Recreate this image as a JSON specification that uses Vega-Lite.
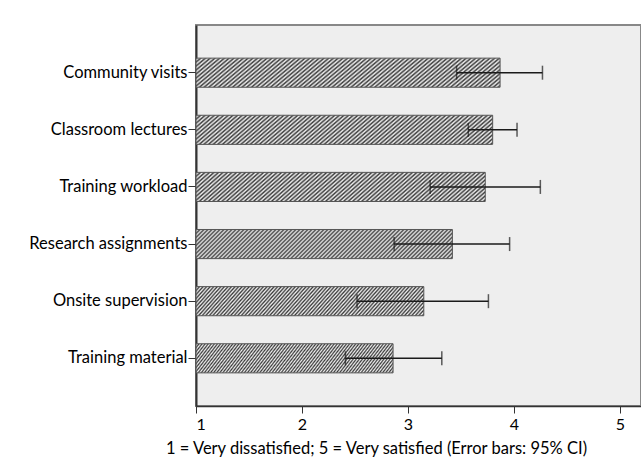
{
  "$schema": "https://vega.github.io/schema/vega-lite/v6.json",
  "usermeta": {"embedOptions": {"actions": false}},
  "width": 445,
  "height": 381,
  "autosize": {"type": "none"},
  "padding": {"left": 196, "top": 25, "right": 0, "bottom": 66},
  "background": "white",
  "config": {
    "view": {"fill": "#eeeeee", "stroke": "#888888", "strokeWidth": 2},
    "font": "Lato"
  },
  "data": {
    "values": [
      {"item": "Community visits", "mean": 3.87, "lo": 3.46, "hi": 4.27},
      {"item": "Classroom lectures", "mean": 3.80, "lo": 3.57, "hi": 4.03},
      {"item": "Training workload", "mean": 3.73, "lo": 3.21, "hi": 4.25},
      {"item": "Research assignments", "mean": 3.42, "lo": 2.87, "hi": 3.96},
      {"item": "Onsite supervision", "mean": 3.15, "lo": 2.52, "hi": 3.76},
      {"item": "Training material", "mean": 2.86, "lo": 2.41, "hi": 3.32}
    ]
  },
  "encoding": {
    "y": {
      "field": "item",
      "type": "nominal",
      "sort": null,
      "scale": {"paddingInner": 0.49, "paddingOuter": 0.58},
      "axis": {
        "title": null,
        "domainColor": "#333333",
        "domainWidth": 2,
        "tickColor": "#333333",
        "tickSize": 8,
        "labelFontSize": 16.5,
        "labelFont": "Lato",
        "labelColor": "#000000",
        "labelPadding": 1
      }
    }
  },
  "layer": [
    {
      "mark": {
        "type": "bar",
        "stroke": "#555555",
        "strokeWidth": 1,
        "fill": {
          "gradient": "linear",
          "x1": 0, "y1": 0, "x2": 1.0995, "y2": 0.125,
          "stops": [
            {"offset": 0, "color": "#3a3a3a"}, {"offset": 0.007, "color": "#f0f0f0"}, {"offset": 0.014, "color": "#3a3a3a"}, {"offset": 0.021, "color": "#f0f0f0"}, {"offset": 0.028, "color": "#3a3a3a"}, {"offset": 0.035, "color": "#f0f0f0"}, {"offset": 0.042, "color": "#3a3a3a"}, {"offset": 0.049, "color": "#f0f0f0"}, {"offset": 0.056, "color": "#3a3a3a"}, {"offset": 0.063, "color": "#f0f0f0"},
            {"offset": 0.07, "color": "#3a3a3a"}, {"offset": 0.077, "color": "#f0f0f0"}, {"offset": 0.084, "color": "#3a3a3a"}, {"offset": 0.091, "color": "#f0f0f0"}, {"offset": 0.098, "color": "#3a3a3a"}, {"offset": 0.105, "color": "#f0f0f0"}, {"offset": 0.112, "color": "#3a3a3a"}, {"offset": 0.119, "color": "#f0f0f0"}, {"offset": 0.126, "color": "#3a3a3a"}, {"offset": 0.133, "color": "#f0f0f0"},
            {"offset": 0.14, "color": "#3a3a3a"}, {"offset": 0.147, "color": "#f0f0f0"}, {"offset": 0.154, "color": "#3a3a3a"}, {"offset": 0.161, "color": "#f0f0f0"}, {"offset": 0.168, "color": "#3a3a3a"}, {"offset": 0.175, "color": "#f0f0f0"}, {"offset": 0.182, "color": "#3a3a3a"}, {"offset": 0.189, "color": "#f0f0f0"}, {"offset": 0.196, "color": "#3a3a3a"}, {"offset": 0.203, "color": "#f0f0f0"},
            {"offset": 0.21, "color": "#3a3a3a"}, {"offset": 0.217, "color": "#f0f0f0"}, {"offset": 0.224, "color": "#3a3a3a"}, {"offset": 0.231, "color": "#f0f0f0"}, {"offset": 0.238, "color": "#3a3a3a"}, {"offset": 0.245, "color": "#f0f0f0"}, {"offset": 0.252, "color": "#3a3a3a"}, {"offset": 0.259, "color": "#f0f0f0"}, {"offset": 0.266, "color": "#3a3a3a"}, {"offset": 0.273, "color": "#f0f0f0"},
            {"offset": 0.28, "color": "#3a3a3a"}, {"offset": 0.287, "color": "#f0f0f0"}, {"offset": 0.294, "color": "#3a3a3a"}, {"offset": 0.301, "color": "#f0f0f0"}, {"offset": 0.308, "color": "#3a3a3a"}, {"offset": 0.315, "color": "#f0f0f0"}, {"offset": 0.322, "color": "#3a3a3a"}, {"offset": 0.329, "color": "#f0f0f0"}, {"offset": 0.336, "color": "#3a3a3a"}, {"offset": 0.343, "color": "#f0f0f0"},
            {"offset": 0.35, "color": "#3a3a3a"}, {"offset": 0.357, "color": "#f0f0f0"}, {"offset": 0.364, "color": "#3a3a3a"}, {"offset": 0.371, "color": "#f0f0f0"}, {"offset": 0.378, "color": "#3a3a3a"}, {"offset": 0.385, "color": "#f0f0f0"}, {"offset": 0.392, "color": "#3a3a3a"}, {"offset": 0.399, "color": "#f0f0f0"}, {"offset": 0.406, "color": "#3a3a3a"}, {"offset": 0.413, "color": "#f0f0f0"},
            {"offset": 0.42, "color": "#3a3a3a"}, {"offset": 0.427, "color": "#f0f0f0"}, {"offset": 0.434, "color": "#3a3a3a"}, {"offset": 0.441, "color": "#f0f0f0"}, {"offset": 0.448, "color": "#3a3a3a"}, {"offset": 0.455, "color": "#f0f0f0"}, {"offset": 0.462, "color": "#3a3a3a"}, {"offset": 0.469, "color": "#f0f0f0"}, {"offset": 0.476, "color": "#3a3a3a"}, {"offset": 0.483, "color": "#f0f0f0"},
            {"offset": 0.49, "color": "#3a3a3a"}, {"offset": 0.497, "color": "#f0f0f0"}, {"offset": 0.504, "color": "#3a3a3a"}, {"offset": 0.511, "color": "#f0f0f0"}, {"offset": 0.518, "color": "#3a3a3a"}, {"offset": 0.525, "color": "#f0f0f0"}, {"offset": 0.532, "color": "#3a3a3a"}, {"offset": 0.539, "color": "#f0f0f0"}, {"offset": 0.546, "color": "#3a3a3a"}, {"offset": 0.553, "color": "#f0f0f0"},
            {"offset": 0.56, "color": "#3a3a3a"}, {"offset": 0.567, "color": "#f0f0f0"}, {"offset": 0.574, "color": "#3a3a3a"}, {"offset": 0.581, "color": "#f0f0f0"}, {"offset": 0.588, "color": "#3a3a3a"}, {"offset": 0.595, "color": "#f0f0f0"}, {"offset": 0.602, "color": "#3a3a3a"}, {"offset": 0.609, "color": "#f0f0f0"}, {"offset": 0.616, "color": "#3a3a3a"}, {"offset": 0.623, "color": "#f0f0f0"},
            {"offset": 0.63, "color": "#3a3a3a"}, {"offset": 0.637, "color": "#f0f0f0"}, {"offset": 0.644, "color": "#3a3a3a"}, {"offset": 0.651, "color": "#f0f0f0"}, {"offset": 0.658, "color": "#3a3a3a"}, {"offset": 0.665, "color": "#f0f0f0"}, {"offset": 0.672, "color": "#3a3a3a"}, {"offset": 0.679, "color": "#f0f0f0"}, {"offset": 0.686, "color": "#3a3a3a"}, {"offset": 0.693, "color": "#f0f0f0"},
            {"offset": 0.7, "color": "#3a3a3a"}, {"offset": 0.707, "color": "#f0f0f0"}, {"offset": 0.714, "color": "#3a3a3a"}, {"offset": 0.721, "color": "#f0f0f0"}, {"offset": 0.728, "color": "#3a3a3a"}, {"offset": 0.735, "color": "#f0f0f0"}, {"offset": 0.742, "color": "#3a3a3a"}, {"offset": 0.749, "color": "#f0f0f0"}, {"offset": 0.756, "color": "#3a3a3a"}, {"offset": 0.763, "color": "#f0f0f0"},
            {"offset": 0.77, "color": "#3a3a3a"}, {"offset": 0.777, "color": "#f0f0f0"}, {"offset": 0.784, "color": "#3a3a3a"}, {"offset": 0.791, "color": "#f0f0f0"}, {"offset": 0.798, "color": "#3a3a3a"}, {"offset": 0.805, "color": "#f0f0f0"}, {"offset": 0.812, "color": "#3a3a3a"}, {"offset": 0.819, "color": "#f0f0f0"}, {"offset": 0.826, "color": "#3a3a3a"}, {"offset": 0.833, "color": "#f0f0f0"},
            {"offset": 0.84, "color": "#3a3a3a"}, {"offset": 0.847, "color": "#f0f0f0"}, {"offset": 0.854, "color": "#3a3a3a"}, {"offset": 0.861, "color": "#f0f0f0"}, {"offset": 0.868, "color": "#3a3a3a"}, {"offset": 0.875, "color": "#f0f0f0"}, {"offset": 0.882, "color": "#3a3a3a"}, {"offset": 0.889, "color": "#f0f0f0"}, {"offset": 0.896, "color": "#3a3a3a"}, {"offset": 0.903, "color": "#f0f0f0"},
            {"offset": 0.91, "color": "#3a3a3a"}, {"offset": 0.917, "color": "#f0f0f0"}, {"offset": 0.924, "color": "#3a3a3a"}, {"offset": 0.931, "color": "#f0f0f0"}, {"offset": 0.938, "color": "#3a3a3a"}, {"offset": 0.945, "color": "#f0f0f0"}, {"offset": 0.952, "color": "#3a3a3a"}, {"offset": 0.959, "color": "#f0f0f0"}, {"offset": 0.966, "color": "#3a3a3a"}, {"offset": 0.973, "color": "#f0f0f0"},
            {"offset": 0.98, "color": "#3a3a3a"}, {"offset": 0.987, "color": "#f0f0f0"}, {"offset": 0.994, "color": "#3a3a3a"}, {"offset": 1, "color": "#f0f0f0"}
          ]
        }
      },
      "encoding": {
        "x": {
          "field": "mean",
          "type": "quantitative",
          "title": "1 = Very dissatisfied; 5 = Very satisfied (Error bars: 95% CI)",
          "scale": {"domain": [1, 5.2], "nice": false, "zero": false},
          "axis": {
            "values": [1, 2, 3, 4, 5],
            "format": "d",
            "grid": false,
            "domainColor": "#333333",
            "domainWidth": 1.5,
            "tickColor": "#333333",
            "tickSize": 7,
            "labelFontSize": 16,
            "labelFont": "Lato",
            "labelColor": "#000000",
            "labelPadding": 3,
            "titleFont": "Lato",
            "titleFontSize": 16.5,
            "titleFontWeight": "normal",
            "titleColor": "#000000",
            "titlePadding": 8,
            "titleX": 180
          }
        },
        "x2": {"datum": 1}
      }
    },
    {
      "mark": {"type": "rule", "color": "#1a1a1a", "strokeWidth": 1.5},
      "encoding": {
        "x": {"field": "lo", "type": "quantitative", "title": "1 = Very dissatisfied; 5 = Very satisfied (Error bars: 95% CI)"},
        "x2": {"field": "hi"}
      }
    },
    {
      "mark": {"type": "tick", "color": "#1a1a1a", "thickness": 1.5, "size": 14, "orient": "vertical"},
      "encoding": {
        "x": {"field": "lo", "type": "quantitative", "title": "1 = Very dissatisfied; 5 = Very satisfied (Error bars: 95% CI)"}
      }
    },
    {
      "mark": {"type": "tick", "color": "#1a1a1a", "thickness": 1.5, "size": 14, "orient": "vertical"},
      "encoding": {
        "x": {"field": "hi", "type": "quantitative", "title": "1 = Very dissatisfied; 5 = Very satisfied (Error bars: 95% CI)"}
      }
    }
  ]
}
